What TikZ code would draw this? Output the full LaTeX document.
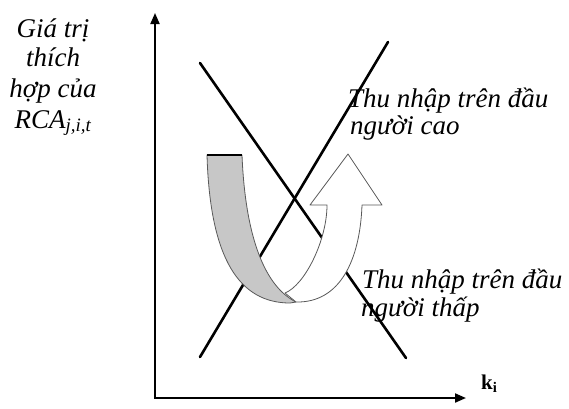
\documentclass[tikz,border=0pt]{standalone}
\usepackage{fontspec}
\setmainfont{Liberation Serif}
\usetikzlibrary{arrows.meta}
\begin{document}
\begin{tikzpicture}[x=1pt,y=-1pt,
  curve/.style={line width=2.6pt,line cap=round},
  axis/.style={line width=2pt,line join=miter,{Triangle[length=11pt,width=9pt]}-{Triangle[length=11pt,width=9pt]}},
  lbl/.style={font=\fontsize{27}{28}\selectfont\itshape,inner sep=0pt},
  ribbon/.style={draw=black!65,line width=0.8pt,line join=round}]
\useasboundingbox (0,0) rectangle (569,408);
% axes
\coordinate (O) at (155,398);
\coordinate (ytip) at (155,13);
\coordinate (xtip) at (466,398);
\draw[axis] (ytip) -- (O) -- (xtip);
% lines
\coordinate (r1) at (200,357);
\coordinate (r2) at (388,42);
\coordinate (f1) at (200,63);
\coordinate (f2) at (406,358);
\draw[curve] (r1) -- (r2);
\draw[curve] (f1) -- (f2);
% gray ribbon (back face)
\coordinate (g1) at (207,155);
\coordinate (g2) at (242,155);
\filldraw[ribbon,fill=black!22] (g1) -- (g2) .. controls (245,230) and (262,285) .. (296,302)
  -- (290,303) .. controls (240,303) and (210,260) .. (g1) -- cycle;
\draw[line width=1.6pt] (g1) -- (g2);
% white arrow (front face)
\filldraw[ribbon,fill=white] (285,293) .. controls (305,285) and (327,240) .. (327,205)
  -- (310,205) -- (348,154) -- (382,205) -- (362,205)
  .. controls (360,260) and (340,303) .. (296,302) -- cycle;
% labels
\node[lbl,anchor=base] (a1) at (53,37) {Giá trị};
\node[lbl,anchor=base] (a2) at (53,66) {thích};
\node[lbl,anchor=base] (a3) at (53,97) {hợp của};
\node[lbl,anchor=base] (a4) at (53,128) {RCA\textsubscript{j,i,t}};
\node[lbl,anchor=base west] (b1) at (348,107) {Thu nhập trên đầu};
\node[lbl,anchor=base west] (b2) at (350,134) {người cao};
\node[lbl,anchor=base west] (c1) at (362,288) {Thu nhập trên đầu};
\node[lbl,anchor=base west] (c2) at (361,316) {người thấp};
\node[inner sep=0pt,anchor=base west,font=\fontsize{21}{21}\selectfont\bfseries] (k) at (481,389) {k\textsubscript{i}};
\end{tikzpicture}
\end{document}
